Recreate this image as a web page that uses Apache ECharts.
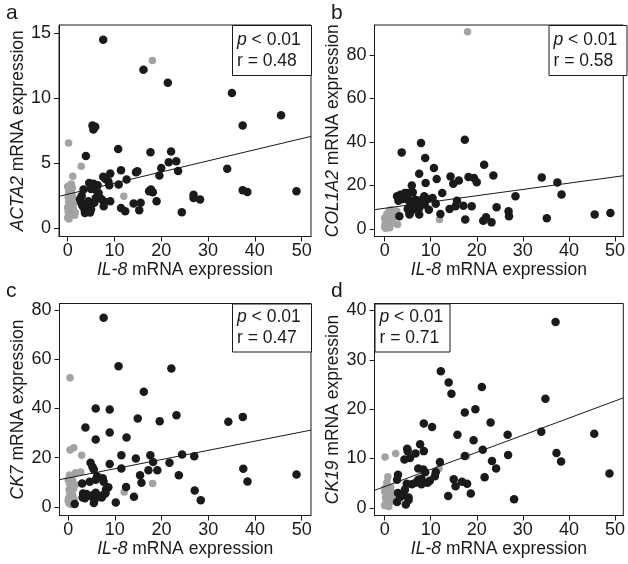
<!DOCTYPE html>
<html>
<head>
<meta charset="utf-8">
<script src="https://cdn.jsdelivr.net/npm/echarts@6/dist/echarts.min.js"></script>
<style>
  html, body { margin: 0; padding: 0; background: #ffffff; }
  #chart { width: 628px; height: 564px; }
</style>
</head>
<body>
<div id="chart"></div>
<script>
// ---- Data -------------------------------------------------------------
// IL-8 mRNA expression (x) against each marker (y); grey = low IL-8 group
const xTicks = [0, 10, 20, 30, 40, 50];
const acta2Ticks = [0, 5, 10, 15];
const col1a2Ticks = [0, 20, 40, 60, 80];
const ck7Ticks = [0, 20, 40, 60, 80];
const ck19Ticks = [0, 10, 20, 30, 40];

const acta2Black = [
  [7.6,14.5],[16.2,12.2],[21.4,11.2],[35.1,10.4],[45.6,8.7],[37.4,7.9],[5.3,7.9],[5.5,7.6],[5.9,7.8],
  [10.8,6.1],[3.9,5.55],[17.7,5.84],[22.1,5.9],[21.6,5.07],[23.2,5.15],[23.6,4.4],[20.0,4.63],[19.6,4.05],
  [14.6,4.3],[14.9,4.38],[11.4,4.46],[34.1,4.58],[12.6,3.74],[9.1,4.2],[7.6,3.95],[8.0,3.8],[8.7,3.6],
  [8.9,3.3],[10.9,3.36],[4.6,3.48],[5.5,3.43],[6.2,3.23],[5.0,3.02],[5.9,2.97],[6.6,2.7],[3.4,2.97],
  [7.2,2.25],[7.7,2.07],[9.1,2.07],[6.0,2.33],[5.7,1.95],[4.4,2.07],[4.8,1.9],[2.65,2.2],[2.9,1.95],
  [3.15,1.73],[3.6,1.43],[3.7,1.17],[5.0,1.46],[4.8,1.2],[7.7,1.69],[11.4,1.56],[12.3,1.3],[14.1,1.9],
  [15.6,1.95],[15.3,1.38],[17.8,2.97],[18.2,2.77],[17.4,2.84],[19.0,2.07],[24.4,1.23],[26.9,2.58],
  [26.9,2.33],[28.3,2.2],[37.4,2.92],[38.4,2.79],[48.9,2.84],[3.0,2.5],[4.1,1.8],[6.4,3.3]
];
const acta2Gray = [
  [18.1,12.9],[0.2,6.55],[2.9,4.76],[1.1,3.99],[12.0,2.46],[0.0,3.2],[0.3,3.0],[0.5,3.3],[0.8,3.4],
  [1.0,3.1],[0.2,2.8],[0.5,2.6],[0.1,2.4],[0.4,2.2],[0.7,2.3],[1.0,2.5],[0.2,2.0],[0.5,1.9],[0.9,1.8],
  [1.3,1.9],[0.0,1.6],[0.3,1.5],[0.6,1.4],[1.0,1.3],[0.2,1.1],[0.5,1.0],[1.5,1.0],[0.0,0.8],[0.3,0.7],
  [0.1,1.3],[2.0,2.2],[1.6,1.2],[0.8,2.9],[1.2,1.5]
];

const col1a2Black = [
  [17.4,41.0],[7.9,39.5],[3.7,35.2],[8.8,32.6],[10.7,28.0],[7.5,25.4],[21.6,29.5],[23.6,24.6],[14.3,24.1],
  [14.9,20.8],[16.1,22.3],[18.2,23.9],[19.4,23.4],[20.0,21.5],[11.3,22.9],[8.9,21.1],[5.9,20.0],[6.1,16.8],
  [5.0,16.5],[12.5,16.5],[3.4,15.7],[4.4,16.5],[4.9,15.3],[2.7,15.0],[3.9,13.7],[5.0,13.4],[5.9,12.6],
  [6.6,13.4],[7.5,13.1],[8.6,15.0],[9.3,13.7],[10.4,14.2],[11.1,11.6],[8.7,11.2],[7.3,12.0],[5.6,11.2],
  [5.0,9.2],[5.4,7.3],[7.5,9.6],[6.1,8.8],[3.2,5.8],[5.4,6.6],[7.5,6.6],[9.6,8.8],[12.1,6.9],[14.1,9.2],
  [15.4,10.4],[15.7,13.0],[17.1,10.7],[18.9,10.4],[17.5,4.3],[21.4,3.8],[22.0,5.4],[23.2,3.0],[24.3,10.0],
  [26.9,8.1],[27.0,5.8],[28.4,15.0],[34.1,23.7],[37.5,21.4],[38.4,15.8],[35.2,4.9],[45.6,6.6],[49.0,7.3],
  [3.0,13.0],[4.5,14.6],[6.3,10.3]
];
const col1a2Gray = [
  [18.0,90.7],[11.9,4.3],[2.8,2.0],[0.0,1.0],[0.2,2.0],[0.5,3.0],[0.3,4.0],[0.8,5.0],[1.0,4.5],[1.2,5.5],
  [0.4,0.5],[0.7,1.5],[1.5,4.0],[1.0,3.2],[0.1,2.5],[0.6,6.0],[1.3,2.2],[0.2,0.3],[0.9,0.8],[1.8,5.0],
  [0.5,7.0],[1.0,8.5],[2.0,7.3],[2.6,8.2],[1.5,8.8],[0.0,5.0],[0.3,3.5],[1.7,3.0],[0.8,2.5],[1.1,0.5]
];

const ck7Black = [
  [7.6,76.9],[10.8,57.2],[22.1,56.3],[16.2,46.8],[5.9,40.0],[8.9,39.6],[14.9,35.9],[23.2,37.3],[19.6,34.8],
  [34.3,34.6],[37.4,36.6],[3.7,32.3],[8.9,30.2],[5.9,27.4],[12.5,28.2],[24.4,21.3],[27.0,20.6],[21.7,17.9],
  [18.2,18.3],[17.6,21.0],[19.1,14.9],[17.2,14.9],[15.4,12.9],[15.7,9.8],[14.5,19.7],[11.4,21.0],[11.4,15.6],
  [8.9,17.4],[23.7,12.9],[37.5,15.5],[38.4,10.3],[48.9,13.2],[27.1,6.7],[28.4,2.7],[14.1,4.1],[12.4,8.1],
  [10.2,1.8],[1.4,1.2],[5.5,1.6],[4.8,17.9],[5.2,16.3],[5.5,15.2],[3.0,9.5],[4.6,10.2],[6.2,12.5],[7.4,11.6],
  [7.6,10.2],[5.9,11.0],[3.2,5.4],[3.9,5.2],[3.6,3.5],[3.1,3.8],[5.4,4.8],[5.9,5.7],[5.6,2.5],[8.1,7.1],
  [8.6,8.0],[7.5,4.8],[7.2,3.8],[4.5,4.5],[6.5,4.2],[8.0,5.5]
];
const ck7Gray = [
  [0.4,52.5],[0.4,23.1],[1.2,24.0],[2.9,21.0],[1.6,13.9],[2.7,14.2],[18.1,9.5],[12.0,6.1],[0.0,11.0],
  [0.3,9.5],[0.6,8.0],[0.2,7.0],[0.8,6.0],[0.4,5.0],[1.0,4.5],[0.1,3.5],[0.5,3.0],[0.9,2.0],[0.2,1.5],
  [0.6,1.0],[1.2,7.5],[0.7,12.5],[1.0,10.5],[0.3,13.0],[1.5,9.0],[0.0,2.5],[0.4,6.5],[1.3,3.0],[0.8,11.5]
];

const ck19Black = [
  [37.1,37.65],[12.2,27.7],[13.9,25.4],[14.5,23.1],[21.1,24.5],[34.9,22.1],[19.7,20.0],[17.4,19.3],[23.0,17.3],
  [8.5,17.1],[10.3,16.4],[15.8,14.8],[26.7,14.8],[34.0,15.4],[45.5,15.0],[19.3,13.7],[21.3,11.8],[17.4,10.5],
  [23.3,9.5],[24.2,8.0],[26.8,10.7],[37.3,11.1],[38.3,9.4],[48.8,6.95],[21.7,6.2],[28.1,1.75],[18.7,2.9],
  [13.8,2.4],[15.0,5.8],[15.4,4.4],[16.8,5.3],[17.9,4.9],[12.0,9.3],[11.1,7.2],[10.9,6.4],[9.8,5.5],[7.7,12.9],
  [6.7,11.0],[8.5,11.5],[4.9,12.0],[5.0,11.5],[5.5,10.1],[4.3,9.8],[7.3,8.0],[8.4,7.8],[8.8,7.2],[2.9,6.7],
  [2.7,5.7],[4.8,4.9],[5.9,4.8],[6.7,5.1],[8.0,4.8],[7.3,5.7],[8.0,5.9],[2.9,3.0],[3.4,2.2],[4.1,2.6],
  [5.2,1.6],[4.6,0.7],[2.7,1.2],[5.2,2.1],[4.4,3.7],[9.3,5.1]
];
const ck19Gray = [
  [0.1,10.3],[2.4,11.0],[0.7,6.3],[11.8,8.0],[17.8,10.5],[0.0,0.5],[0.3,1.0],[0.6,1.5],[0.2,2.0],[0.8,2.5],
  [0.4,3.0],[1.0,3.5],[0.1,4.0],[0.5,4.5],[1.2,1.2],[1.5,2.2],[0.9,0.3],[2.0,3.0],[0.3,2.8],[0.7,0.8],
  [1.8,1.5],[0.0,3.3],[1.3,4.2],[2.5,2.5],[0.5,5.2],[1.0,2.0]
];

// Least-squares fit per panel: [intercept, slope]
const acta2Fit = [2.61, 0.0857];
const col1a2Fit = [9.48, 0.289];
const ck7Fit = [11.77, 0.374];
const ck19Fit = [4.31, 0.347];

// Statistics text per panel: [p label, r value]
const acta2Stats = ['< 0.01', '0.48'];
const col1a2Stats = ['< 0.01', '0.58'];
const ck7Stats = ['< 0.01', '0.47'];
const ck19Stats = ['< 0.01', '0.71'];

const panelLetters = ['a', 'b', 'c', 'd'];
const geneNames = ['ACTA2', 'COL1A2', 'CK7', 'CK19'];

// ---- Layout -----------------------------------------------------------
const FONT = '"Liberation Sans", Arial, Helvetica, sans-serif';
const INK = '#1a1a1a';
const GREY = '#a3a3a3';

const panels = [
  { letter: panelLetters[0], gene: geneNames[0], black: acta2Black, gray: acta2Gray, fit: acta2Fit, stats: acta2Stats,
    yTicks: acta2Ticks, grid: { left: 59, top: 25, width: 252, height: 211.5 },
    xRange: [-1.85, 52.0], yRange: [-0.64, 15.64], box: { left: 232, top: 25, w: 79, h: 50 }, letterPos: [6, 3] },
  { letter: panelLetters[1], gene: geneNames[1], black: col1a2Black, gray: col1a2Gray, fit: col1a2Fit, stats: col1a2Stats,
    yTicks: col1a2Ticks, grid: { left: 374.5, top: 25, width: 252, height: 211.5 },
    xRange: [-2.2, 51.8], yRange: [-3.5, 93.8], box: { left: 548.5, top: 25, w: 78, h: 50 }, letterPos: [331, 3] },
  { letter: panelLetters[2], gene: geneNames[2], black: ck7Black, gray: ck7Gray, fit: ck7Fit, stats: ck7Stats,
    yTicks: ck7Ticks, grid: { left: 59.5, top: 303.5, width: 251.5, height: 212 },
    xRange: [-1.85, 52.0], yRange: [-3.5, 82.7], box: { left: 232, top: 303.5, w: 79, h: 48 }, letterPos: [6, 281] },
  { letter: panelLetters[3], gene: geneNames[3], black: ck19Black, gray: ck19Gray, fit: ck19Fit, stats: ck19Stats,
    yTicks: ck19Ticks, grid: { left: 374.5, top: 303.5, width: 252, height: 212 },
    xRange: [-2.2, 51.8], yRange: [-1.54, 41.4], box: { left: 374.5, top: 303.5, w: 75, h: 48 }, letterPos: [331, 281] }
];

const grids = [], xAxes = [], yAxes = [], series = [], graphics = [];

panels.forEach((p, i) => {
  grids.push(Object.assign({ show: true, borderColor: INK, borderWidth: 1, backgroundColor: 'transparent' }, p.grid));

  xAxes.push({
    type: 'value', gridIndex: i, min: p.xRange[0], max: p.xRange[1],
    axisLine: { show: true, onZero: false, lineStyle: { color: INK, width: 1 } },
    axisTick: { show: true, length: 5, customValues: xTicks, lineStyle: { color: INK, width: 1 } },
    axisLabel: { customValues: xTicks, fontSize: 18, margin: 6, fontFamily: FONT, color: INK },
    splitLine: { show: false },
    name: '{i|IL-8} mRNA expression',
    nameLocation: 'middle', nameGap: 24,
    nameTextStyle: {
      fontSize: 17.5, fontFamily: FONT, color: INK,
      rich: { i: { fontStyle: 'italic', fontSize: 17.5, fontFamily: FONT, color: INK } }
    }
  });

  yAxes.push({
    type: 'value', gridIndex: i, min: p.yRange[0], max: p.yRange[1],
    axisLine: { show: true, onZero: false, lineStyle: { color: INK, width: 1 } },
    axisTick: { show: true, length: 5, customValues: p.yTicks, lineStyle: { color: INK, width: 1 } },
    axisLabel: { customValues: p.yTicks, fontSize: 18, margin: 8, fontFamily: FONT, color: INK },
    splitLine: { show: false },
    name: '{i|' + p.gene + '} mRNA expression',
    nameLocation: 'middle', nameGap: 30,
    nameTextStyle: {
      fontSize: 17.5, fontFamily: FONT, color: INK,
      rich: { i: { fontStyle: 'italic', fontSize: 17.5, fontFamily: FONT, color: INK } }
    }
  });

  series.push({
    type: 'scatter', xAxisIndex: i, yAxisIndex: i, data: p.gray,
    symbol: 'circle', symbolSize: 7.5, itemStyle: { color: GREY, opacity: 1 }, silent: true, z: 2
  });
  series.push({
    type: 'scatter', xAxisIndex: i, yAxisIndex: i, data: p.black,
    symbol: 'circle', symbolSize: 8.5, itemStyle: { color: INK, opacity: 1 }, silent: true, z: 3
  });
  const x0 = p.xRange[0], x1 = p.xRange[1];
  series.push({
    type: 'line', xAxisIndex: i, yAxisIndex: i,
    data: [[x0, p.fit[0] + p.fit[1] * x0], [x1, p.fit[0] + p.fit[1] * x1]],
    symbol: 'none', lineStyle: { color: INK, width: 1 }, silent: true, z: 4
  });

  // statistics box
  graphics.push({
    type: 'group', left: p.box.left, top: p.box.top, z: 10,
    children: [
      { type: 'rect', shape: { x: 0, y: 0, width: p.box.w, height: p.box.h },
        style: { fill: '#ffffff', stroke: INK, lineWidth: 1 } },
      { type: 'text', x: 4.5, y: p.box.h / 2,
        style: {
          text: '{i|p} ' + p.stats[0] + '\nr = ' + p.stats[1],
          font: '17.5px ' + FONT, fill: INK, lineHeight: 21,
          verticalAlign: 'middle', align: 'left',
          rich: { i: { fontStyle: 'italic', fontSize: 17.5, fontFamily: FONT, fill: INK, lineHeight: 21 } }
        } }
    ]
  });

  // panel letter
  graphics.push({
    type: 'text', left: p.letterPos[0], top: p.letterPos[1], z: 10,
    style: { text: p.letter, font: '21px ' + FONT, fill: INK }
  });
});

const chart = echarts.init(document.getElementById('chart'), null, { renderer: 'canvas' });
chart.setOption({
  animation: false,
  backgroundColor: '#ffffff',
  grid: grids,
  xAxis: xAxes,
  yAxis: yAxes,
  series: series,
  graphic: graphics
});
</script>
</body>
</html>
